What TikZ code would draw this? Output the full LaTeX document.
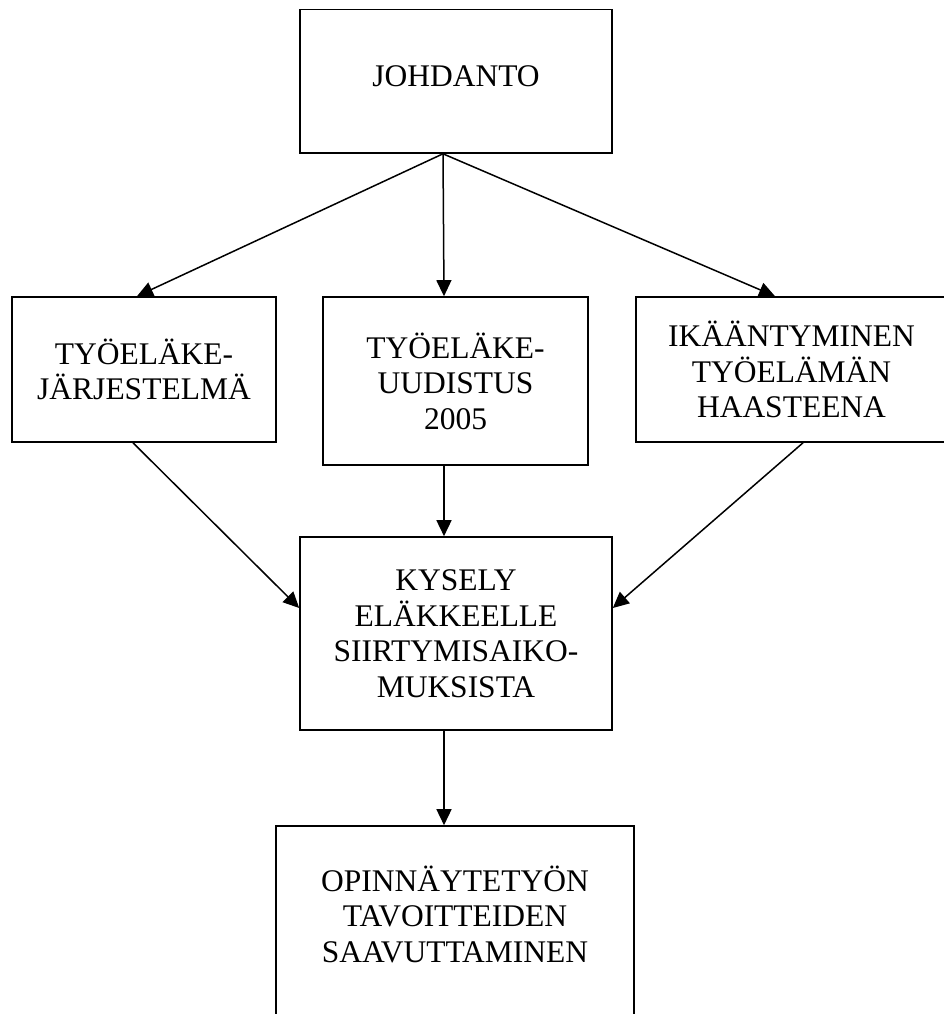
\documentclass[tikz,border=0pt]{standalone}
\usepackage{fontspec}
\setmainfont{Liberation Serif}
\usetikzlibrary{arrows.meta}
\begin{document}
\begin{tikzpicture}[x=1pt,y=-1pt,
  box/.style={draw=black, line width=1.6pt, rectangle, inner sep=0pt, align=center,
    font=\fontsize{31.5}{35.5}\selectfont},
  txt/.style={inner sep=0pt, align=center, font=\fontsize{31.5}{35.5}\selectfont},
  arr/.style={line width=1.5pt, -{Triangle[length=16pt,width=15pt]}}]
\useasboundingbox (0,0) rectangle (944,1014);
\fill[white] (0,0) rectangle (944,1014);
\node[box, minimum width=312pt, minimum height=143.5pt, text depth=10pt] (j) at (456,81.25) {JOHDANTO};
\node[box, minimum width=264pt, minimum height=145pt] (a) at (144,369.5) {TYÖELÄKE-\\JÄRJESTELMÄ};
\node[box, minimum width=265pt, minimum height=168pt] (b) at (455.5,381) {TYÖELÄKE-\\UUDISTUS\\2005};
\node[box, minimum width=311pt, minimum height=145pt] (c) at (791.5,369.5) {IKÄÄNTYMINEN\\TYÖELÄMÄN\\HAASTEENA};
\node[box, minimum width=312pt, minimum height=193pt] (d) at (456,633.5) {KYSELY\\ELÄKKEELLE\\SIIRTYMISAIKO-\\MUKSISTA};
\node[box, minimum width=358pt, minimum height=220pt] (e) at (455,936) {};
\node[txt] (et) at (455,914) {OPINNÄYTETYÖN\\TAVOITTEIDEN\\SAAVUTTAMINEN};
\draw[arr] ([xshift=-13pt]j.south) -- ([xshift=-7pt]a.north);
\draw[arr] ([xshift=-13pt]j.south) -- ([xshift=-11.5pt]b.north);
\draw[arr] ([xshift=-13pt]j.south) -- ([xshift=-16.5pt]c.north);
\draw[arr] ([xshift=-11pt]a.south) -- ([yshift=25.5pt]d.west);
\draw[arr] ([xshift=-11.5pt]b.south) -- ([xshift=-12pt]d.north);
\draw[arr] ([xshift=11.5pt]c.south) -- ([yshift=25.5pt]d.east);
\draw[arr] ([xshift=-12pt]d.south) -- ([xshift=-11pt]e.north);
\end{tikzpicture}
\end{document}
